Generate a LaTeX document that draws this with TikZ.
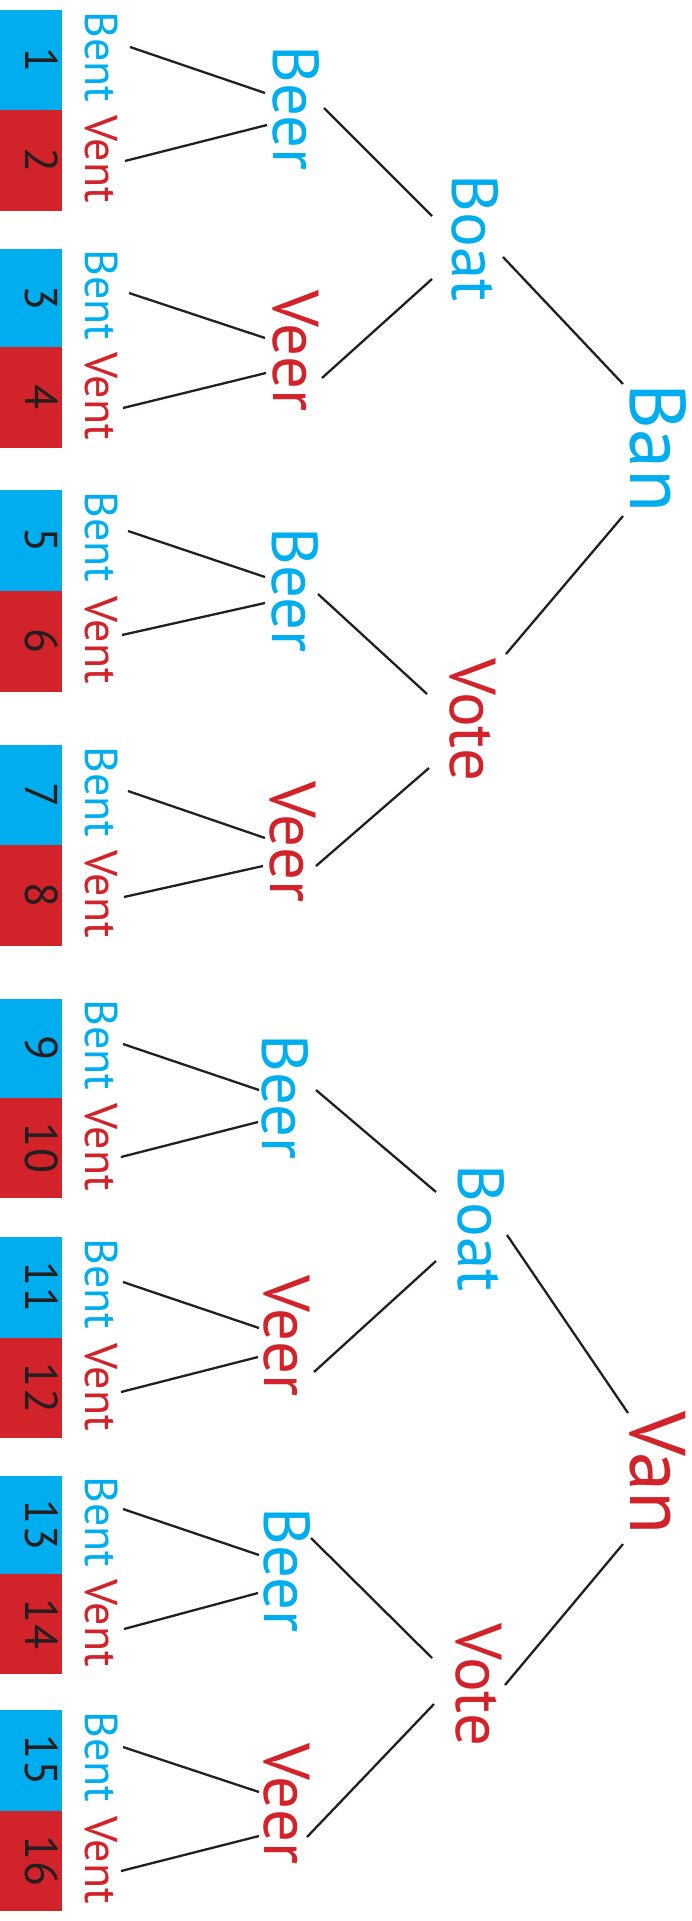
\documentclass[tikz,border=0pt]{standalone}
\usepackage{fontspec}
\setmainfont{PT Sans}
\usetikzlibrary{calc}
\definecolor{cblue}{HTML}{00AEEF}
\definecolor{cred}{HTML}{D2232A}
\definecolor{cink}{HTML}{231F20}
\begin{document}
\begin{tikzpicture}[x=1pt,y=-1pt,
  word/.style={rotate=-90, inner sep=0pt, outer sep=0pt, anchor=base},
  leaf/.style={word, font=\fontsize{46}{46}\selectfont},
  midword/.style={word, font=\fontsize{65}{65}\selectfont},
  rootword/.style={word, font=\fontsize{79}{79}\selectfont},
  num/.style={word, text=cink, font=\fontsize{46}{46}\selectfont},
  cell/.style={draw=none, inner sep=0pt, outer sep=0pt, minimum width=62pt, anchor=north west},
  bluecell/.style={cell, fill=cblue},
  redcell/.style={cell, fill=cred},
  link/.style={draw=cink, line width=2.3pt}
]
\useasboundingbox (0,0) rectangle (691,1921);

% ---- coloured cells ----
\node[bluecell, minimum height=100pt] (c1)  at (0,10)   {};
\node[redcell,  minimum height=101pt] (c2)  at (0,110)  {};
\node[bluecell, minimum height=98pt]  (c3)  at (0,249)  {};
\node[redcell,  minimum height=101pt] (c4)  at (0,347)  {};
\node[bluecell, minimum height=101pt] (c5)  at (0,490)  {};
\node[redcell,  minimum height=101pt] (c6)  at (0,591)  {};
\node[bluecell, minimum height=100pt] (c7)  at (0,745)  {};
\node[redcell,  minimum height=101pt] (c8)  at (0,845)  {};
\node[bluecell, minimum height=99pt]  (c9)  at (0,999)  {};
\node[redcell,  minimum height=100pt] (c10) at (0,1098) {};
\node[bluecell, minimum height=101pt] (c11) at (0,1237) {};
\node[redcell,  minimum height=100pt] (c12) at (0,1338) {};
\node[bluecell, minimum height=98pt]  (c13) at (0,1476) {};
\node[redcell,  minimum height=100pt] (c14) at (0,1574) {};
\node[bluecell, minimum height=101pt] (c15) at (0,1710) {};
\node[redcell,  minimum height=100pt] (c16) at (0,1811) {};

% ---- numbers ----
\node[num] (n1)  at (25,60)   {1};
\node[num] (n2)  at (25,160)  {2};
\node[num] (n3)  at (25,298)  {3};
\node[num] (n4)  at (25,397)  {4};
\node[num] (n5)  at (25,540)  {5};
\node[num] (n6)  at (25,641)  {6};
\node[num] (n7)  at (25,795)  {7};
\node[num] (n8)  at (25,895)  {8};
\node[num] (n9)  at (25,1048) {9};
\node[num] (n10) at (25,1148) {10};
\node[num] (n11) at (25,1287) {11};
\node[num] (n12) at (25,1388) {12};
\node[num] (n13) at (25,1525) {13};
\node[num] (n14) at (25,1624) {14};
\node[num] (n15) at (25,1760) {15};
\node[num] (n16) at (25,1861) {16};

% ---- leaves ----
\node[leaf, text=cblue] (b1)  at (85,57)   {Bent};
\node[leaf, text=cred]  (v2)  at (85,159)  {Vent};
\node[leaf, text=cblue] (b3)  at (85,295)  {Bent};
\node[leaf, text=cred]  (v4)  at (85,396)  {Vent};
\node[leaf, text=cblue] (b5)  at (85,537)  {Bent};
\node[leaf, text=cred]  (v6)  at (85,640)  {Vent};
\node[leaf, text=cblue] (b7)  at (85,792)  {Bent};
\node[leaf, text=cred]  (v8)  at (85,894)  {Vent};
\node[leaf, text=cblue] (b9)  at (85,1045) {Bent};
\node[leaf, text=cred]  (v10) at (85,1147) {Vent};
\node[leaf, text=cblue] (b11) at (85,1284) {Bent};
\node[leaf, text=cred]  (v12) at (85,1387) {Vent};
\node[leaf, text=cblue] (b13) at (85,1522) {Bent};
\node[leaf, text=cred]  (v14) at (85,1623) {Vent};
\node[leaf, text=cblue] (b15) at (85,1757) {Bent};
\node[leaf, text=cred]  (v16) at (85,1860) {Vent};

% ---- level 1 ----
\node[midword, text=cblue] (beerA) at (273,108)  {Beer};
\node[midword, text=cred]  (veerA) at (273,351)  {Veer};
\node[midword, text=cblue] (beerB) at (272,590)  {Beer};
\node[midword, text=cred]  (veerB) at (270,842)  {Veer};
\node[midword, text=cblue] (beerC) at (262,1097) {Beer};
\node[midword, text=cred]  (veerC) at (264,1336) {Veer};
\node[midword, text=cblue] (beerD) at (264,1570) {Beer};
\node[midword, text=cred]  (veerD) at (264,1804) {Veer};

% ---- level 2 ----
\node[midword, text=cblue] (boatA) at (452,238)  {Boat};
\node[midword, text=cred]  (voteA) at (450,720)  {Vote};
\node[midword, text=cblue] (boatB) at (458,1228) {Boat};
\node[midword, text=cred]  (voteB) at (456,1685) {Vote};

% ---- roots ----
\node[rootword, text=cblue] (ban) at (630,448)  {Ban};
\node[rootword, text=cred]  (van) at (630,1473) {Van};

% ---- connectors ----
\draw[link] ($(b1.base)+(45,-10)$)  -- ($(beerA.base)+(-8,-15)$);
\draw[link] ($(v2.base)+(40,2)$)    -- ($(beerA.base)+(-6,17)$);
\draw[link] ($(b3.base)+(44,-2)$)   -- ($(veerA.base)+(-8,-13)$);
\draw[link] ($(v4.base)+(38,12)$)   -- ($(veerA.base)+(-7,22)$);
\draw[link] ($(b5.base)+(43,-6)$)   -- ($(beerB.base)+(-7,-13)$);
\draw[link] ($(v6.base)+(37,-5)$)   -- ($(beerB.base)+(-7,13)$);
\draw[link] ($(b7.base)+(43,-1)$)   -- ($(veerB.base)+(-5,-4)$);
\draw[link] ($(v8.base)+(39,3)$)    -- ($(veerB.base)+(-7,24)$);
\draw[link] ($(b9.base)+(38,-1)$)   -- ($(beerC.base)+(-3,-7)$);
\draw[link] ($(v10.base)+(36,10)$)  -- ($(beerC.base)+(-4,25)$);
\draw[link] ($(b11.base)+(38,-2)$)  -- ($(veerC.base)+(-5,-8)$);
\draw[link] ($(v12.base)+(36,5)$)   -- ($(veerC.base)+(-6,21)$);
\draw[link] ($(b13.base)+(38,-13)$) -- ($(beerD.base)+(-5,-15)$);
\draw[link] ($(v14.base)+(39,6)$)   -- ($(beerD.base)+(-6,23)$);
\draw[link] ($(b15.base)+(38,-10)$) -- ($(veerD.base)+(-5,-12)$);
\draw[link] ($(v16.base)+(36,11)$)  -- ($(veerD.base)+(-5,32)$);

\draw[link] ($(beerA.base)+(51,0)$)   -- ($(boatA.base)+(-20,-22)$);
\draw[link] ($(veerA.base)+(49,27)$)  -- ($(boatA.base)+(-20,41)$);
\draw[link] ($(beerB.base)+(46,4)$)   -- ($(voteA.base)+(-23,-26)$);
\draw[link] ($(veerB.base)+(46,24)$)  -- ($(voteA.base)+(-21,48)$);
\draw[link] ($(beerC.base)+(54,-7)$)  -- ($(boatB.base)+(-22,-36)$);
\draw[link] ($(veerC.base)+(50,36)$)  -- ($(boatB.base)+(-22,33)$);
\draw[link] ($(beerD.base)+(47,-32)$) -- ($(voteB.base)+(-24,-27)$);
\draw[link] ($(veerD.base)+(43,33)$)  -- ($(voteB.base)+(-22,19)$);

\draw[link] ($(boatA.base)+(51,19)$)  -- ($(ban.base)+(-7,-64)$);
\draw[link] ($(voteA.base)+(56,-66)$) -- ($(ban.base)+(-7,68)$);
\draw[link] ($(boatB.base)+(49,7)$)   -- ($(van.base)+(-2,-60)$);
\draw[link] ($(voteB.base)+(49,0)$)   -- ($(van.base)+(-7,71)$);
\end{tikzpicture}
\end{document}
